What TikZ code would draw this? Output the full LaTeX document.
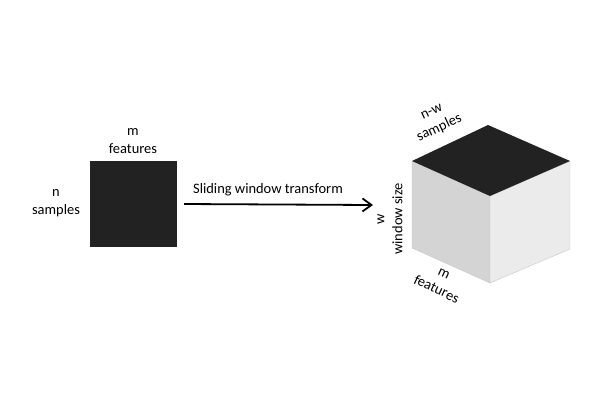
\documentclass[tikz,border=0pt]{standalone}
\usepackage{fontspec}
\setmainfont{Carlito}
\usepackage{xcolor}
\usetikzlibrary{calc,arrows.meta}
\definecolor{dark1}{HTML}{222222}
\definecolor{side1}{HTML}{D4D4D4}
\definecolor{side2}{HTML}{EBEBEB}
\definecolor{edge1}{HTML}{C8C8C8}

\tikzset{lbl/.style={align=center,font=\fontsize{14.5}{18}\selectfont,inner sep=0pt}}

\begin{document}
\begin{tikzpicture}[x=1bp,y=-1bp]
\useasboundingbox (0,0) rectangle (600,400);

% input matrix
\node[fill=dark1,minimum width=87bp,minimum height=86bp,inner sep=0pt] (data) at (133.5,204) {};
\node[lbl] (dcols) at (133,141) {m\\features};
\node[lbl] (drows) at (56,203) {n\\samples};

% cube
\begin{scope}
\coordinate (ctop) at (488,125);
\coordinate (cleft) at (412,161);
\coordinate (cright) at (570,161);
\coordinate (cfront) at (490,196);
\coordinate (bleft) at (412,248);
\coordinate (bfront) at (490,283);
\coordinate (bright) at (570,249);
\draw[edge1,fill=side1] (cleft) -- (cfront) -- (bfront) -- (bleft) -- cycle;
\draw[edge1,fill=side2] (cfront) -- (cright) -- (bright) -- (bfront) -- cycle;
\fill[dark1] (cleft) -- (ctop) -- (cright) -- (cfront) -- cycle;
\end{scope}

\node[lbl,rotate=25] (csamp) at (436,121) {n-w\\samples};
\node[lbl,rotate=90] (cwin) at (390,219) {w\\window size};
\node[lbl,rotate=-25] (cfeat) at (440,282) {m\\features};

% transform arrow
\coordinate (aend) at (373,205);
\draw[line width=1.8bp,-{Straight Barb[length=9bp,width=13bp]}] (data.east) ++(7,0) coordinate (astart) -- (aend);
\node[lbl] (tlabel) at (268,190) {Sliding window transform};

\end{tikzpicture}
\end{document}
